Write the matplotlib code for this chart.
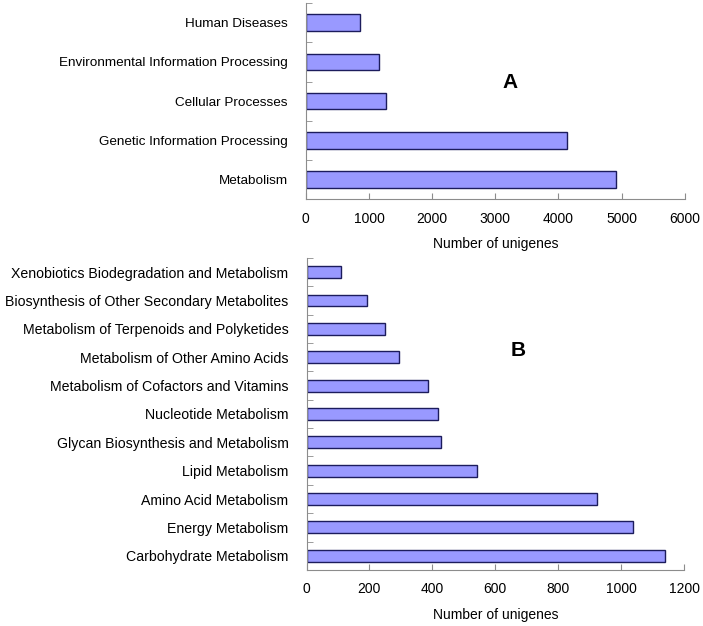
import matplotlib.pyplot as plt
import numpy as np

plt.rcParams['font.family'] = ['Liberation Sans', 'DejaVu Sans']

# panel A: KEGG categories
cats_a = ['Metabolism', 'Genetic Information Processing', 'Cellular Processes',
          'Environmental Information Processing', 'Human Diseases']
vals_a = [4915, 4135, 1277, 1155, 854]

# panel B: metabolism sub-categories
cats_b = ['Carbohydrate Metabolism', 'Energy Metabolism', 'Amino Acid Metabolism',
          'Lipid Metabolism', 'Glycan Biosynthesis and Metabolism',
          'Nucleotide Metabolism', 'Metabolism of Cofactors and Vitamins',
          'Metabolism of Other Amino Acids', 'Metabolism of Terpenoids and Polyketides',
          'Biosynthesis of Other Secondary Metabolites',
          'Xenobiotics Biodegradation and Metabolism']
vals_b = [1141, 1038, 923, 543, 429, 418, 385, 293, 251, 193, 111]

xticks_a = [0, 1000, 2000, 3000, 4000, 5000, 6000]
xticks_b = [0, 200, 400, 600, 800, 1000, 1200]

fill = '#9999ff'
edge = '#1c1c5c'
grey = '#8c8c8c'


def draw_panel(ax, cats, vals, xticks, letter, lx, ly, fs):
    n = len(cats)
    y = np.arange(n)
    ax.barh(y, vals, height=0.42, color=fill, edgecolor=edge, linewidth=1.0)
    ax.set_ylim(-0.5, n - 0.5)
    ax.set_xlim(xticks[0], xticks[-1])
    ax.set_xticks(xticks)
    ax.set_yticks(y)
    ax.set_yticklabels(cats, fontsize=fs)
    ax.set_yticks(np.arange(n + 1) - 0.5, minor=True)
    ax.tick_params(axis='y', which='major', length=0, pad=13)
    ax.tick_params(axis='y', which='minor', direction='in', length=4, color=grey)
    ax.tick_params(axis='x', direction='in', length=4, color=grey, labelsize=10, pad=9)
    for s in ['top', 'right']:
        ax.spines[s].set_visible(False)
    for s in ['left', 'bottom']:
        ax.spines[s].set_color(grey)
    ax.set_xlabel('Number of unigenes', fontsize=10, labelpad=8)
    ax.text(lx, ly, letter, transform=ax.transAxes, fontsize=15,
            fontweight='bold', ha='center', va='center')


fig = plt.figure(figsize=(7.03, 6.26), dpi=100)
ax_a = fig.add_axes([0.435, 0.682, 0.539, 0.313])
ax_b = fig.add_axes([0.436, 0.0895, 0.537, 0.4985])

draw_panel(ax_a, cats_a, vals_a, xticks_a, 'A', 0.538, 0.597, 9.7)
draw_panel(ax_b, cats_b, vals_b, xticks_b, 'B', 0.561, 0.702, 10.2)

fig.savefig('out.png', dpi=100)
